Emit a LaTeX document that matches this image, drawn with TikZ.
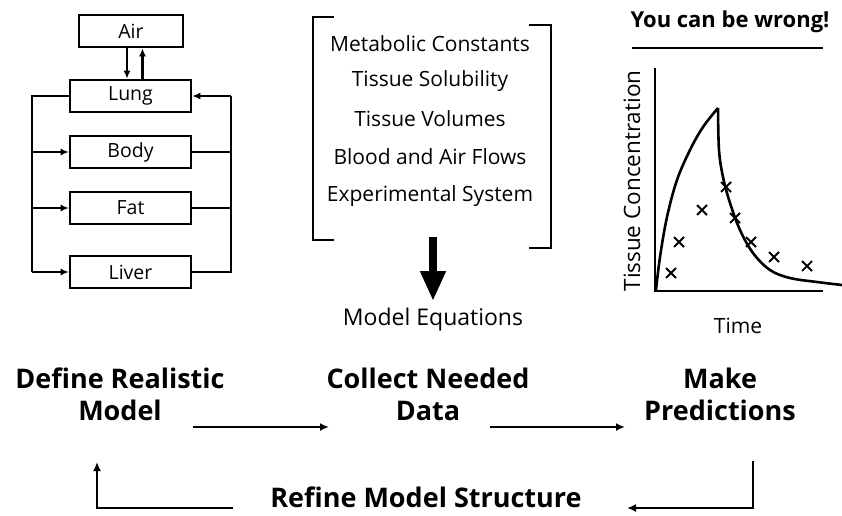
\documentclass[tikz,border=0pt]{standalone}
\usepackage{fontspec}
\setmainfont{Open Sans}
\usetikzlibrary{arrows.meta}
\tikzset{
  organ/.style={draw, line width=2.6pt, minimum width=121pt, minimum height=32pt,
                inner sep=0pt, font=\fontsize{19.5}{21}\selectfont},
  air/.style={organ, minimum width=104pt},
  flow/.style={line width=2.4pt},
  flowarrow/.style={flow, -{Latex[length=8pt,width=7pt]}},
  item/.style={font=\fontsize{21}{22}\selectfont, inner sep=0pt},
  stage/.style={font=\fontsize{27}{32}\selectfont\bfseries, align=center, inner sep=0pt},
  cycle/.style={line width=2.5pt, -{Latex[length=9pt,width=8pt]}},
  bracket/.style={line width=2.5pt},
  axis/.style={line width=2.6pt},
  curve/.style={line width=2.6pt, line join=round}
}
\begin{document}
\begin{tikzpicture}[x=1pt, y=-1pt]
\useasboundingbox (0,0) rectangle (842,515);

% ---- compartment model ----
\node[air]   (air)   at (131,31)    {Air};
\node[organ] (lung)  at (130.5,96)  {Lung};
\node[organ] (body)  at (130.5,152) {Body};
\node[organ] (fat)   at (130.5,208) {Fat};
\node[organ] (liver) at (130.5,272) {Liver};

\draw[flowarrow] ([xshift=-4pt]air.south) -- ([xshift=-4pt]air.south |- lung.north);
\draw[flowarrow] ([xshift=12pt]lung.north) -- ([xshift=12pt]lung.north |- air.south);

\coordinate (ltop) at (32,96);
\coordinate (lbot) at (32,272);
\coordinate (rtop) at (231,96);
\coordinate (rbot) at (231,272);

\draw[flow] (lung.west) -- (ltop) -- (lbot);
\draw[flowarrow] (ltop |- body.west) -- (body.west);
\draw[flowarrow] (ltop |- fat.west) -- (fat.west);
\draw[flowarrow] (lbot) -- (liver.west);

\draw[flow] (body.east) -- (rtop |- body.east);
\draw[flow] (fat.east) -- (rtop |- fat.east);
\draw[flow] (liver.east) -- (rbot) -- (rtop);
\draw[flowarrow] (rtop) -- (lung.east);

% ---- data requirements ----
\draw[bracket] (334,17) -- (313,17) -- (313,240) -- (334,240);
\draw[bracket] (529,25) -- (551,25) -- (551,248) -- (529,248);
\node[item] (met)  at (430,44)  {Metabolic Constants};
\node[item] (sol)  at (430,81)  {Tissue Solubility};
\node[item] (vol)  at (430,119) {Tissue Volumes};
\node[item] (flw)  at (430,157) {Blood and Air Flows};
\node[item] (exp)  at (430,196) {Experimental System};
\node[item, font=\fontsize{23}{24}\selectfont] (eqn) at (433,320) {Model Equations};
\coordinate (bigtop) at (433,237);
\draw[line width=8pt, -{Triangle[length=30pt,width=24pt]}] (bigtop) -- (433,301);

% ---- prediction plot ----
\node[font=\fontsize{22}{24}\selectfont\bfseries, inner sep=0pt] (wrong) at (730,22) {You can be wrong!};
\draw[line width=2.6pt] (632,48) -- (823,48);
\coordinate (orig) at (655,291);
\draw[axis] (655,68) -- (orig) -- (823,291);
\node[rotate=90, font=\fontsize{22.5}{24}\selectfont, inner sep=0pt] (ylab) at (632,181) {Tissue Concentration};
\node[font=\fontsize{21}{22}\selectfont, inner sep=0pt] (xlab) at (738,326) {Time};
\draw[curve] plot[smooth, tension=0.6] coordinates
  {(656,290) (660,257) (667,217) (677,180) (690,150) (703,127) (718,108)};
\draw[curve] plot[smooth, tension=0.6] coordinates
  {(718,108) (719,150) (723,177) (730,203) (740,230) (753,253) (770,270) (790,278) (817,282) (842,285)};
\foreach \px/\py in {671/273, 679/242, 702/210, 726/187, 735/218, 751/242, 774/257, 807/266}
  \draw[line width=1.8pt] (\px-5,\py-5) -- (\px+5,\py+5) (\px-5,\py+5) -- (\px+5,\py-5);

% ---- modelling cycle ----
\node[stage] (define)  at (120,394) {Define Realistic\\Model};
\node[stage] (collect) at (428,394) {Collect Needed\\Data};
\node[stage] (predict) at (720,394) {Make\\Predictions};
\node[stage] (refine)  at (426,497) {Refine Model Structure};

\coordinate (a1s) at (193,427);
\coordinate (a1e) at (329,427);
\coordinate (a2s) at (490,427);
\coordinate (a2e) at (625,427);
\draw[cycle] (a1s) -- (a1e);
\draw[cycle] (a2s) -- (a2e);

\coordinate (rtopc) at (753,461);
\coordinate (rcorner) at (753,508);
\coordinate (rtip) at (627,508);
\coordinate (lstart) at (233,508);
\coordinate (lcorner) at (97,508);
\coordinate (ltopc) at (97,462);
\draw[cycle] (rtopc) -- (rcorner) -- (rtip);
\draw[cycle] (lstart) -- (lcorner) -- (ltopc);
\end{tikzpicture}
\end{document}
